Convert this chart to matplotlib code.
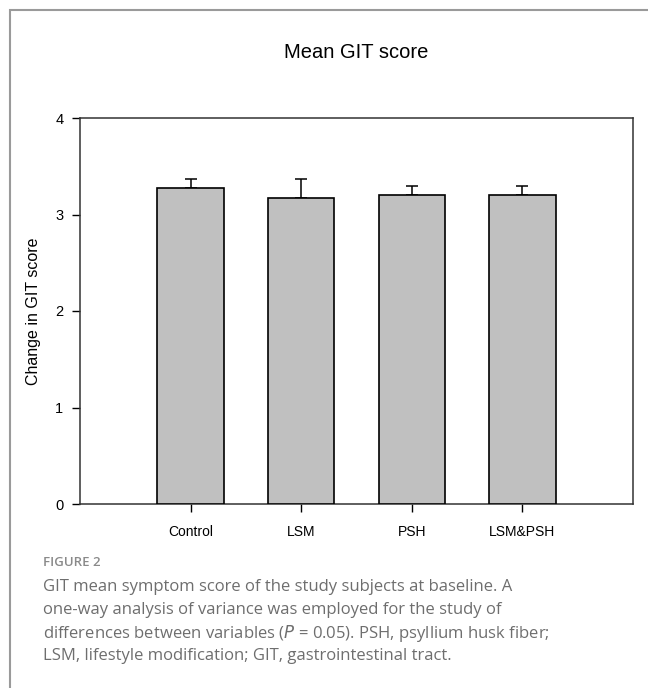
import matplotlib.pyplot as plt
from matplotlib.patches import Rectangle

# data
groups = ['Control', 'LSM', 'PSH', 'LSM&PSH']
means = [3.27, 3.17, 3.20, 3.20]
errs = [0.10, 0.20, 0.10, 0.10]
yticks = [0, 1, 2, 3, 4]

caption_head = 'FIGURE 2'
caption_lines = [
    'GIT mean symptom score of the study subjects at baseline. A',
    'one-way analysis of variance was employed for the study of',
    r'differences between variables ($P$ = 0.05). PSH, psyllium husk fiber;',
    'LSM, lifestyle modification; GIT, gastrointestinal tract.',
]

W, H = 648, 688
fig = plt.figure(figsize=(W / 100, H / 100), dpi=100)

# outer frame (only left and top edges visible)
fig.patches.append(Rectangle((10 / W, -0.1), 1.2, 1 - 10 / H + 0.1,
                             transform=fig.transFigure, fill=False,
                             edgecolor='#9a9a9a', linewidth=1.5))

ax = fig.add_axes([80 / W, 1 - 504 / H, (633 - 80) / W, (504 - 118) / H])
x = list(range(1, len(groups) + 1))
ax.bar(x, means, width=0.6, color='#c0c0c0', edgecolor='black', linewidth=1.2, zorder=3)
ax.errorbar(x, means, yerr=[[0] * len(errs), errs], fmt='none', ecolor='black',
            elinewidth=1.1, capsize=4.3, capthick=1.1, zorder=2)

ax.set_xlim(0, 5)
ax.set_ylim(0, 4)
ax.set_xticks(x)
ax.set_xticklabels(groups, fontsize=10, fontfamily='Liberation Sans')
ax.set_yticks(yticks)
ax.set_yticklabels([str(v) for v in yticks], fontsize=10.5, fontfamily='Liberation Sans')
ax.tick_params(axis='x', length=6, width=1, pad=9)
ax.tick_params(axis='y', length=6, width=1, pad=6)
for s in ax.spines.values():
    s.set_color('#333333')
    s.set_linewidth(1.1)

ax.set_ylabel('Change in GIT score', fontsize=11.5, fontfamily='Liberation Sans', labelpad=10)
fig.text(356 / W, 1 - 53 / H, 'Mean GIT score', fontsize=14.5, fontfamily='Liberation Sans',
         ha='center', va='center')

fig.text(43 / W, 1 - 563 / H, caption_head, fontsize=9.5, fontfamily='Open Sans',
         fontweight='semibold', color='#8a8a8a', va='center')
for i, line in enumerate(caption_lines):
    fig.text(43 / W, 1 - (587 + 23 * i) / H, line, fontsize=12, fontfamily='Open Sans',
             color='#6e6e6e', va='center')

fig.savefig('out.png', dpi=100)
